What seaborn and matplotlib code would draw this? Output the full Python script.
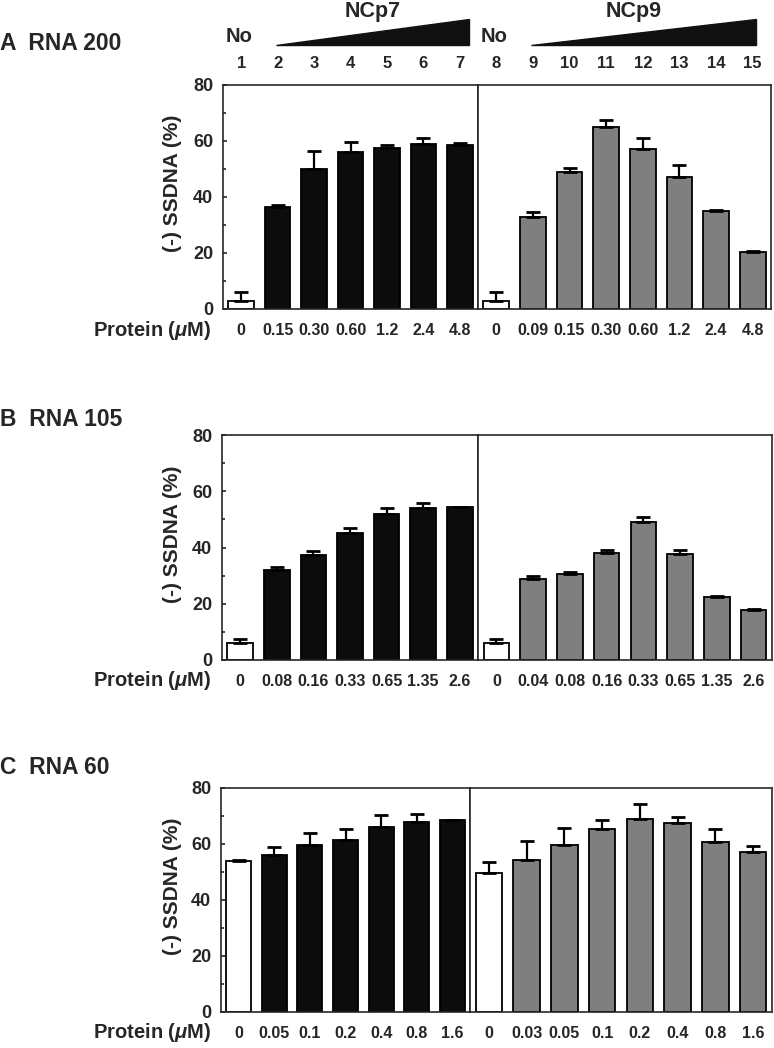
import numpy as np
import pandas as pd
import seaborn as sns
import matplotlib.pyplot as plt
from matplotlib.ticker import MultipleLocator

sns.set_style("ticks")
plt.rcParams['font.family'] = ['Liberation Sans', 'DejaVu Sans']
plt.rcParams['font.weight'] = 'bold'
plt.rcParams['mathtext.fontset'] = 'custom'
plt.rcParams['mathtext.it'] = 'Liberation Sans:italic:bold'
plt.rcParams['mathtext.rm'] = 'Liberation Sans:bold'

# lanes
lanes_left = [1, 2, 3, 4, 5, 6, 7]
lanes_right = [8, 9, 10, 11, 12, 13, 14, 15]

# panel A - RNA 200
a_conc_p7 = ['0', '0.15', '0.30', '0.60', '1.2', '2.4', '4.8']
a_val_p7 = [3.0, 36.5, 50.0, 56.0, 57.5, 59.0, 58.5]
a_err_p7 = [3.0, 0.5, 6.5, 3.5, 1.2, 2.0, 0.7]
a_conc_p9 = ['0', '0.09', '0.15', '0.30', '0.60', '1.2', '2.4', '4.8']
a_val_p9 = [3.0, 33.0, 49.0, 65.0, 57.0, 47.0, 35.0, 20.3]
a_err_p9 = [3.0, 1.8, 1.5, 2.6, 4.0, 4.6, 0.4, 0.4]

# panel B - RNA 105
b_conc_p7 = ['0', '0.08', '0.16', '0.33', '0.65', '1.35', '2.6']
b_val_p7 = [6.0, 32.0, 37.5, 45.2, 52.0, 54.0, 54.4]
b_err_p7 = [1.5, 1.0, 1.2, 1.7, 2.0, 2.0, 0.0]
b_conc_p9 = ['0', '0.04', '0.08', '0.16', '0.33', '0.65', '1.35', '2.6']
b_val_p9 = [6.0, 28.7, 30.6, 38.0, 49.0, 37.7, 22.4, 17.7]
b_err_p9 = [1.3, 1.0, 0.8, 1.0, 1.8, 1.3, 0.5, 0.4]

# panel C - RNA 60
c_conc_p7 = ['0', '0.05', '0.1', '0.2', '0.4', '0.8', '1.6']
c_val_p7 = [54.0, 56.0, 59.7, 61.6, 66.0, 68.0, 68.4]
c_err_p7 = [0.3, 3.0, 4.2, 3.8, 4.2, 2.8, 0.0]
c_conc_p9 = ['0', '0.03', '0.05', '0.1', '0.2', '0.4', '0.8', '1.6']
c_val_p9 = [49.5, 54.2, 59.5, 65.2, 69.0, 67.5, 60.7, 57.2]
c_err_p9 = [4.0, 6.7, 6.3, 3.4, 5.3, 2.1, 4.8, 2.1]

W, H = 774, 1048
fig = plt.figure(figsize=(W / 100, H / 100), dpi=100)


def pos(l, r, t, b):
    return [l / W, 1 - b / H, (r - l) / W, (b - t) / H]


def bars(ax, lanes, vals, errs, conc, fill):
    df = pd.DataFrame({'lane': lanes, 'val': vals})
    colors = ['white'] + [fill] * (len(lanes) - 1)
    sns.barplot(data=df, x='lane', y='val', hue='lane', palette=colors,
                legend=False, width=0.7, edgecolor='black', linewidth=1.3,
                errorbar=None, ax=ax)
    n = len(lanes)
    ax.errorbar(range(n), vals, yerr=[np.zeros(n), errs], fmt='none',
                ecolor='black', elinewidth=1.6, capsize=4.8, capthick=2)
    ax.set_xlim(-0.5, n - 0.5)
    ax.set_ylim(0, 80)
    ax.set_xticks(range(n))
    ax.set_xticklabels(conc, fontsize=11.5, fontweight='bold')
    ax.tick_params(axis='x', length=0, pad=10)
    ax.set_xlabel('')
    ax.set_ylabel('')
    for s in ax.spines.values():
        s.set_visible(True)
        s.set_linewidth(1.2)


panels = [
    ('A  RNA 200', (85, 309, 223, 478, 771), 43,
     a_val_p7, a_err_p7, a_conc_p7, a_val_p9, a_err_p9, a_conc_p9),
    ('B  RNA 105', (435, 660, 222, 478, 772), 420,
     b_val_p7, b_err_p7, b_conc_p7, b_val_p9, b_err_p9, b_conc_p9),
    ('C  RNA 60', (788, 1012, 221, 470, 772), 768,
     c_val_p7, c_err_p7, c_conc_p7, c_val_p9, c_err_p9, c_conc_p9),
]

axes_a = None
for title, (t, b, l, m, r), ty, v7, e7, c7, v9, e9, c9 in panels:
    axl = fig.add_axes(pos(l, m, t, b))
    axr = fig.add_axes(pos(m, r, t, b))
    bars(axl, lanes_left, v7, e7, c7, '#0c0c0c')
    bars(axr, lanes_right, v9, e9, c9, '#7f7f7f')

    axl.yaxis.set_major_locator(MultipleLocator(20))
    axl.yaxis.set_minor_locator(MultipleLocator(10))
    axl.tick_params(axis='y', which='major', direction='in', length=3,
                    width=1.2, pad=7, labelsize=13)
    axl.tick_params(axis='y', which='minor', direction='in', length=2.5,
                    width=1.2)
    for lab in axl.get_yticklabels():
        lab.set_fontweight('bold')
    axr.set_yticks([])

    axl.set_ylabel('(-) SSDNA (%)', fontsize=15, fontweight='bold')
    axl.yaxis.set_label_coords((182 - l) / (m - l), 0.56)

    fig.text(0.0, 1 - ty / H, title, fontsize=16.5, fontweight='bold',
             ha='left', va='center')
    fig.text(211 / W, 1 - (b + 21) / H, r'Protein ($\mathit{μ}$M)',
             fontsize=14.5, fontweight='bold', ha='right', va='center')
    if axes_a is None:
        axes_a = (axl, axr, t, b)

# header above panel A
axl, axr, t, b = axes_a
hpx = b - t
for ax, lanes in ((axl, lanes_left), (axr, lanes_right)):
    tr = ax.get_xaxis_transform()
    for i, lane in enumerate(lanes):
        ax.text(i, (b - 64) / hpx, str(lane), transform=tr, ha='center',
                va='center', fontsize=12, fontweight='bold')
    ax.text(-0.05, (b - 37) / hpx, 'No', transform=tr, ha='center',
            va='center', fontsize=14.5, fontweight='bold')

tri_specs = [(axl, 0.95, 6.25, 3.6, 'NCp7'), (axr, 0.95, 7.1, 3.75, 'NCp9')]
for ax, x0, x1, xt, name in tri_specs:
    tr = ax.get_xaxis_transform()
    y0 = (b - 45) / hpx
    y1 = (b - 19) / hpx
    ax.fill([x0, x1, x1], [y0, y0, y1], color='#111111', transform=tr,
            clip_on=False)
    ax.text(xt, (b - 12) / hpx, name, transform=tr, ha='center', va='center',
            fontsize=15.5, fontweight='bold')

fig.savefig('out.png', dpi=100)
